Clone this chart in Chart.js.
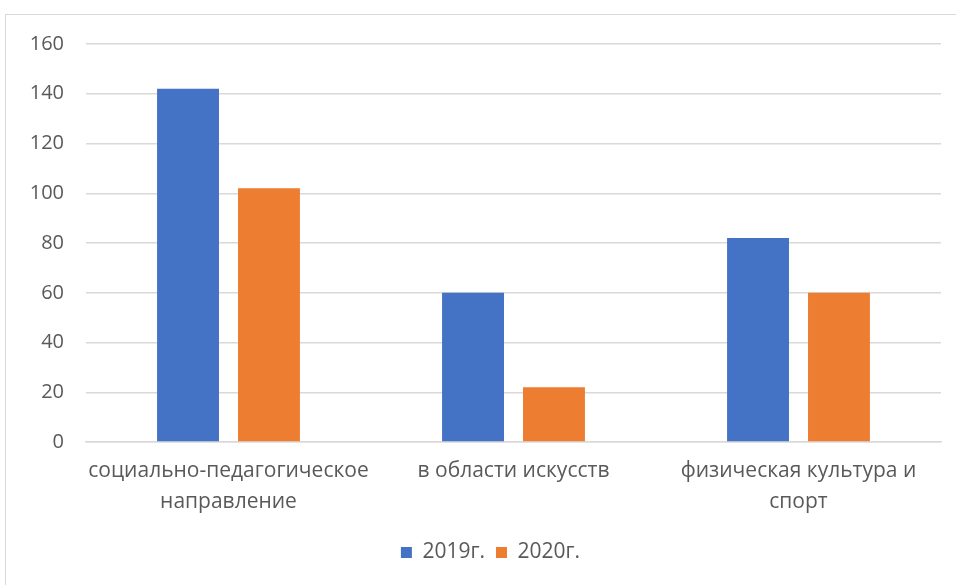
<!DOCTYPE html>
<html><head><meta charset="utf-8">
<script src="https://cdn.jsdelivr.net/npm/chart.js@4"></script>
<style>
html,body{margin:0;padding:0;background:#fff;}
#wrap{position:relative;width:956px;height:585px;overflow:hidden;}
#frame{position:absolute;left:5px;top:14px;width:1000px;height:700px;border:1.5px solid #d9d9d9;box-sizing:border-box;}
canvas{position:absolute;left:0;top:0;}
</style></head><body>
<div id="wrap"><div id="frame"></div><canvas id="c" width="956" height="585"></canvas></div>
<script>
const categories = [["социально-педагогическое","направление"],["в области искусств"],["физическая культура и","спорт"]];
const values2019 = [142, 60, 82];
const values2020 = [102, 22, 60];
const seriesNames = ["2019г.", "2020г."];
const yTicks = [0, 20, 40, 60, 80, 100, 120, 140, 160];

const FONT = "'Open Sans', sans-serif";
const shiftLegend = {
  id: 'shiftLegend',
  afterLayout(chart) {
    const lg = chart.legend;
    if (lg) { lg.left += 20; lg.right += 20; }
  }
};
new Chart(document.getElementById('c'), {
  type: 'bar',
  data: {
    labels: categories,
    datasets: [
      {label: seriesNames[0], data: values2019, backgroundColor: '#4472C4', categoryPercentage: 0.568, barPercentage: 0.765},
      {label: seriesNames[1], data: values2020, backgroundColor: '#ED7D31', categoryPercentage: 0.568, barPercentage: 0.765}
    ]
  },
  plugins: [shiftLegend],
  options: {
    responsive: false, animation: false,
    layout: {padding: {top: 44, right: 15, bottom: 12, left: 0}},
    plugins: {
      legend: {position: 'bottom', labels: {font: {family: FONT, size: 21}, color: '#595959', boxWidth: 11, boxHeight: 11, padding: 11}},
      tooltip: {enabled: false}
    },
    scales: {
      x: {
        grid: {display: false, drawTicks: false},
        border: {display: true, color: '#d9d9d9', width: 1.5},
        ticks: {font: {family: FONT, size: 21, lineHeight: 1.45}, color: '#595959', padding: 14, maxRotation: 0, autoSkip: false}
      },
      y: {
        min: 0, max: 160,
        afterBuildTicks: s => { s.ticks = yTicks.map(v => ({value: v})); },
        afterFit: s => { s.width = 86; },
        grid: {color: '#d9d9d9', lineWidth: 1.5, drawTicks: false},
        border: {display: false},
        ticks: {font: {family: FONT, size: 20}, color: '#595959', padding: 22}
      }
    }
  }
});
</script></body></html>
